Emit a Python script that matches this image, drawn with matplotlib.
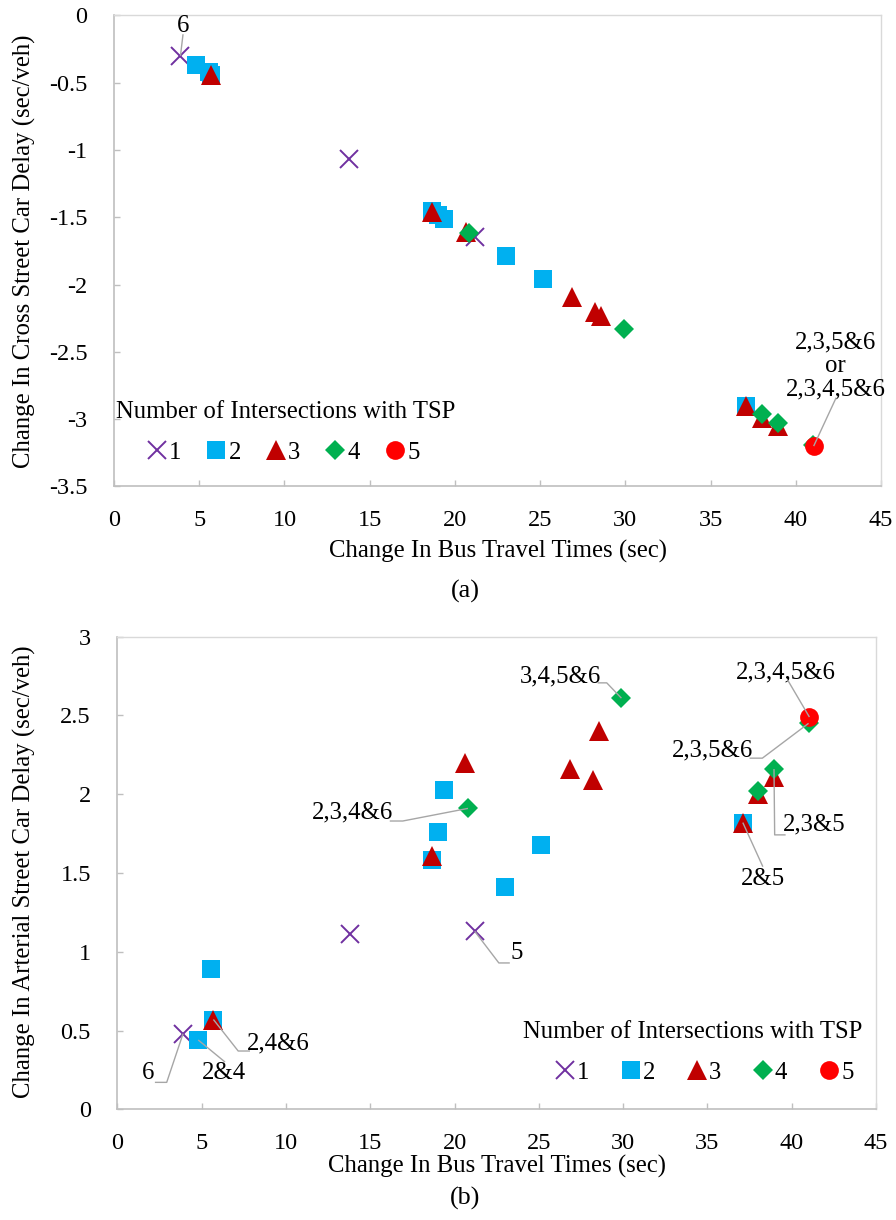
import matplotlib
matplotlib.use("Agg")
import matplotlib.pyplot as plt
from matplotlib.lines import Line2D

# ==== Data (bus travel time change vs car delay change) ====
# series = number of intersections with TSP
s1_x = [3.9, 13.8, 21.2]
s1_top = [-0.30, -1.07, -1.65]
s1_bot = [0.48, 1.11, 1.13]

s2_x = [4.8, 5.55, 5.7, 18.65, 19.0, 19.35, 23.0, 25.15, 37.1]
s2_top = [-0.37, -0.42, -0.44, -1.45, -1.48, -1.51, -1.79, -1.96, -2.90]
s2_bot = [0.44, 0.89, 0.57, 1.58, 1.76, 2.03, 1.41, 1.68, 1.82]

s3_x = [5.7, 18.65, 20.65, 26.85, 28.2, 28.6, 37.1, 38.0, 38.95]
s3_top = [-0.44, -1.46, -1.61, -2.09, -2.20, -2.23, -2.90, -2.99, -3.05]
s3_bot = [0.57, 1.61, 2.20, 2.16, 2.09, 2.40, 1.82, 2.00, 2.11]

s4_x = [20.8, 29.9, 38.0, 38.95, 41.0]
s4_top = [-1.62, -2.33, -2.96, -3.03, -3.19]
s4_bot = [1.91, 2.61, 2.02, 2.16, 2.45]

s5_x = [41.05]
s5_top = [-3.20]
s5_bot = [2.49]

series_labels = ["1", "2", "3", "4", "5"]

# ==== Style ====
W, H = 896, 1220
serif = ["Liberation Serif", "DejaVu Serif"]
plt.rcParams["font.family"] = serif
FS = 17.8
TFS = 17.5
AXIS_C = "#BFBFBF"
LEAD_C = "#A6A6A6"

styles = [
    dict(marker="x", ms=13, mew=1.4, color="#7030A0"),
    dict(marker="s", ms=13.5, mew=0, color="#00B0F0"),
    dict(marker="^", ms=14, mew=0, color="#C00000"),
    dict(marker="D", ms=9.8, mew=0, color="#00B050"),
    dict(marker="o", ms=13.5, mew=0, color="#FF0000"),
]


def px_rect(left, top, right, bottom):
    return [left / W, 1 - bottom / H, (right - left) / W, (bottom - top) / H]


def style_axes(ax, ylim, yticks, ylabels):
    ax.set_xlim(0, 45)
    ax.set_ylim(*ylim)
    ax.set_xticks(range(0, 50, 5))
    ax.set_yticks(yticks)
    ax.set_yticklabels(ylabels)
    for side in ["left", "bottom"]:
        ax.spines[side].set_color(AXIS_C)
        ax.spines[side].set_linewidth(1.2)
    for side in ["top", "right"]:
        ax.spines[side].set_color("#D9D9D9")
        ax.spines[side].set_linewidth(1.0)
    ax.tick_params(direction="in", length=4, width=1.0, color=AXIS_C,
                   labelsize=TFS, top=False, right=False)
    ax.tick_params(axis="x", pad=17)
    ax.tick_params(axis="y", pad=19)


def leader(ax, pts):
    xs = [p[0] for p in pts]
    ys = [p[1] for p in pts]
    ax.plot(xs, ys, color=LEAD_C, lw=1.0, zorder=6, solid_capstyle="butt")


def draw_series(ax, data):
    for (xv, yv), st, lab in zip(data, styles, series_labels):
        ax.plot(xv, yv, linestyle="none", label=lab, zorder=3, **st)


def add_legend(ax, title_xy, first_marker_xy, colsp):
    handles = [Line2D([], [], linestyle="none", **st) for st in styles]
    leg = ax.legend(handles, series_labels, ncol=5, frameon=False,
                    loc="center left", bbox_to_anchor=(first_marker_xy[0] / W, 1 - first_marker_xy[1] / H),
                    bbox_transform=fig.transFigure, borderpad=0, borderaxespad=0,
                    handlelength=0.8, handletextpad=0.1, columnspacing=colsp,
                    fontsize=FS)
    fig.text(title_xy[0] / W, 1 - title_xy[1] / H, "Number of Intersections with TSP",
             ha="left", va="center", fontsize=FS)
    return leg


fig = plt.figure(figsize=(W / 100, H / 100), dpi=100)

# ==== (a) Cross street delay ====
ax1 = fig.add_axes(px_rect(114, 15.4, 881, 486.5))
style_axes(ax1, (-3.5, 0), [0, -0.5, -1, -1.5, -2, -2.5, -3, -3.5],
           ["0", "-0.5", "-1", "-1.5", "-2", "-2.5", "-3", "-3.5"])
draw_series(ax1, [(s1_x, s1_top), (s2_x, s2_top), (s3_x, s3_top), (s4_x, s4_top), (s5_x, s5_top)])
ax1.set_xlabel("Change In Bus Travel Times (sec)", fontsize=FS, va="center")
ax1.xaxis.set_label_coords(0.5, -0.137)
ax1.set_ylabel("Change In Cross Street Car Delay (sec/veh)", fontsize=FS, va="center")
ax1.yaxis.set_label_coords(-0.117, 0.5)

ax1.text(4.05, -0.08, "6", ha="center", va="center", fontsize=FS)
leader(ax1, [(4.05, -0.14), (s1_x[0], s1_top[0])])
ax1.text(42.35, -2.605, "2,3,5&6\nor\n2,3,4,5&6", ha="center", va="center",
         fontsize=FS, linespacing=1.07)
leader(ax1, [(42.37, -2.84), (s5_x[0], s5_top[0])])

add_legend(ax1, (116, 412), (146.8, 452.7), 1.01)

# ==== (b) Arterial street delay ====
ax2 = fig.add_axes(px_rect(117.3, 636.7, 876, 1109.3))
style_axes(ax2, (0, 3), [0, 0.5, 1, 1.5, 2, 2.5, 3],
           ["0", "0.5", "1", "1.5", "2", "2.5", "3"])
draw_series(ax2, [(s1_x, s1_bot), (s2_x, s2_bot), (s3_x, s3_bot), (s4_x, s4_bot), (s5_x, s5_bot)])
ax2.set_xlabel("Change In Bus Travel Times (sec)", fontsize=FS, va="center")
ax2.xaxis.set_label_coords(0.5, -0.12)
ax2.set_ylabel("Change In Arterial Street Car Delay (sec/veh)", fontsize=FS, va="center")
ax2.yaxis.set_label_coords(-0.122, 0.502)

notes = [
    ("3,4,5&6", (26.27, 2.75), [(28.49, 2.707), (29.03, 2.707)], (s4_x[1], s4_bot[1])),
    ("2,3,4&6", (13.96, 1.883), [(16.16, 1.83), (16.93, 1.83)], (s4_x[0], s4_bot[0])),
    ("2,3,4,5&6", (39.65, 2.772), [(39.76, 2.725)], (s5_x[0], s5_bot[0])),
    ("2,3,5&6", (35.28, 2.281), [(37.5, 2.229), (38.26, 2.229)], (s4_x[4], s4_bot[4])),
    ("2,3&5", (41.31, 1.805), [(39.64, 1.742), (38.99, 1.742)], (s4_x[3], s4_bot[3])),
    ("2&5", (38.29, 1.46), [(38.29, 1.54)], (s2_x[8], s2_bot[8])),
    ("5", (23.69, 0.99), [(23.28, 0.929), (22.63, 0.929)], (s1_x[2], s1_bot[2])),
    ("2,4&6", (9.54, 0.419), [(7.87, 0.37), (7.17, 0.37)], (s3_x[0], s3_bot[0])),
    ("2&4", (6.31, 0.229), [(6.39, 0.30)], (s2_x[0], s2_bot[0])),
    ("6", (1.84, 0.229), [(2.23, 0.171), (2.93, 0.171)], (s1_x[0], s1_bot[0])),
]
for txt, pos, elbow, target in notes:
    ax2.text(pos[0], pos[1], txt, ha="center", va="center", fontsize=FS)
    leader(ax2, elbow + [target])

add_legend(ax2, (523, 1031.7), (554.8, 1072.7), 1.27)

fig.text(465 / W, 1 - 591 / H, "(a)", ha="center", va="center", fontsize=FS + 1)
fig.text(465 / W, 1 - 1198 / H, "(b)", ha="center", va="center", fontsize=FS + 1)

fig.savefig("out.png", dpi=100)
